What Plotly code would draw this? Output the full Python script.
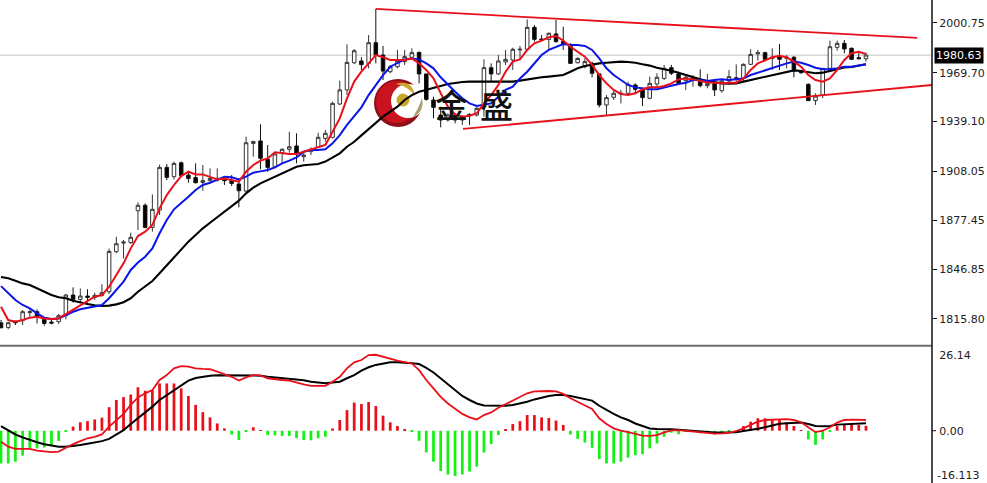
import plotly.graph_objects as go

# --- Price panel data ---
bullish = [0,1,0,1,1,0,0,0,1,1,0,1,0,1,1,1,1,1,1,1,0,1,1,0,1,0,0,0,1,1,1,0,0,0,
1,1,0,0,1,1,1,0,1,1,1,1,1,1,1,1,0,1,0,0,1,1,1,1,0,0,0,0,1,0,1,0,1,1,0,1,1,1,1,
1,0,0,1,0,0,0,1,1,0,0,1,1,1,1,0,0,1,1,1,0,0,1,1,0,1,0,1,1,1,1,1,1,0,1,0,1,0,0,
0,1,1,1,1,0,0,0,1]
highs = [1815.1,1814.1,1814.7,1821.4,1821.8,1821.8,1816.6,1816.1,1818.9,1831.4,1835.5,1834.9,1834.3,1832.2,1837.4,1859.7,1867.2,1865.1,1869.7,1888.6,
1888.0,1893.6,1912.2,1912.6,1914.1,1914.1,1907.8,1913.0,1912.0,1909.9,1909.9,1904.3,1905.7,1903.6,1929.7,1927.2,1937.4,1924.5,1919.7,1922.4,
1932.8,1931.8,1920.3,1923.0,1932.2,1933.9,1951.6,1964.7,1987.4,1984.5,1979.3,1993.2,2009.5,1986.4,1974.5,1983.9,1983.9,1984.9,1982.8,1968.9,
1954.7,1948.4,1944.3,1944.3,1943.2,1944.3,1948.4,1978.0,1975.5,1980.7,1983.9,1985.3,1986.4,2003.0,1999.5,1993.2,1994.7,2002.6,1998.4,1988.0,
1979.3,1978.6,1976.6,1968.9,1955.7,1958.9,1958.9,1964.1,1963.0,1959.9,1967.2,1969.3,1974.5,1974.5,1970.3,1968.2,1968.2,1971.8,1968.9,1965.1,
1965.1,1971.4,1974.9,1975.5,1984.3,1983.9,1982.8,1984.9,1987.6,1980.7,1980.1,1971.4,1963.0,1956.8,1972.4,1989.7,1989.7,1990.1,1985.5,1982.8,1982.2]
body_tops = [1813.4,1813.4,1814.3,1820.3,1820.3,1820.3,1815.5,1813.8,1817.8,1830.7,1830.7,1830.1,1830.1,1830.5,1832.2,1858.0,1862.8,1863.8,1866.8,1886.8,
1886.8,1884.3,1910.5,1910.5,1913.0,1913.4,1905.7,1904.1,1902.2,1903.6,1903.6,1903.0,1902.2,1900.1,1925.9,1926.6,1927.0,1915.5,1918.9,1921.8,
1923.4,1923.9,1918.2,1921.8,1929.3,1931.8,1950.5,1958.9,1976.1,1983.4,1977.0,1988.4,1988.4,1980.7,1973.4,1977.2,1979.7,1982.2,1982.4,1968.9,
1952.6,1943.2,1943.2,1943.2,1942.2,1943.6,1947.4,1972.8,1972.8,1977.0,1978.0,1984.3,1984.3,1998.0,1998.0,1990.7,1994.3,1993.9,1989.1,1987.4,
1978.6,1976.6,1975.5,1968.9,1954.1,1956.8,1956.8,1962.4,1962.0,1958.9,1963.0,1966.8,1972.4,1972.8,1968.9,1966.8,1966.2,1964.1,1963.0,1963.0,
1964.5,1967.2,1966.6,1974.9,1981.1,1982.2,1982.2,1979.3,1980.1,1979.3,1979.3,1970.7,1962.4,1955.1,1972.4,1985.9,1988.0,1988.0,1984.9,1979.1,1980.7]
body_bottoms = [1810.3,1810.5,1813.4,1814.7,1819.7,1816.8,1813.0,1813.2,1814.1,1817.8,1828.0,1828.0,1829.3,1829.3,1830.5,1832.8,1857.8,1863.2,1863.6,1883.4,
1873.0,1873.0,1883.8,1904.3,1904.7,1905.5,1903.6,1900.9,1901.1,1902.2,1902.6,1902.2,1900.5,1895.9,1895.7,1925.5,1916.2,1910.5,1910.9,1919.7,
1921.8,1919.3,1917.2,1920.3,1923.0,1928.6,1929.3,1950.1,1958.9,1975.9,1974.7,1975.5,1980.7,1970.7,1970.3,1973.4,1976.6,1979.3,1968.9,1953.0,
1948.0,1940.1,1940.1,1940.1,1940.1,1942.8,1943.2,1948.4,1968.9,1968.9,1976.4,1977.6,1983.9,1984.3,1990.5,1990.1,1990.5,1989.1,1987.4,1975.5,
1975.9,1973.4,1969.3,1949.5,1949.5,1954.3,1956.4,1956.8,1959.3,1954.1,1953.7,1962.6,1966.1,1969.3,1963.0,1964.7,1965.1,1961.6,1961.6,1958.9,
1958.4,1964.5,1966.0,1966.1,1974.9,1981.4,1978.0,1978.6,1978.0,1978.6,1970.9,1969.7,1952.2,1952.2,1955.7,1972.4,1985.5,1984.5,1978.0,1978.4,1978.4]
lows = [1809.9,1809.3,1812.0,1812.0,1816.1,1813.0,1811.6,1812.4,1812.6,1815.5,1826.0,1826.0,1826.0,1827.6,1829.7,1831.4,1856.8,1853.6,1862.6,1871.4,
1872.4,1870.3,1880.7,1902.6,1903.0,1904.7,1900.9,1900.5,1895.9,1901.6,1901.6,1899.5,1898.9,1885.5,1894.3,1917.2,1909.3,1907.8,1909.9,1913.0,
1919.7,1913.0,1914.1,1918.2,1923.0,1926.6,1928.6,1949.5,1955.7,1975.1,1971.4,1972.4,1975.5,1965.1,1969.3,1972.4,1974.5,1978.0,1963.0,1952.2,
1941.2,1935.5,1939.1,1938.0,1937.0,1937.0,1942.2,1942.2,1964.1,1968.2,1974.5,1971.4,1978.0,1983.9,1989.1,1989.7,1984.3,1988.4,1983.9,1975.1,
1975.5,1972.4,1966.8,1948.0,1943.2,1952.6,1950.5,1955.7,1956.8,1948.9,1953.0,1960.9,1965.1,1968.2,1962.0,1958.9,1960.9,1960.5,1959.9,1955.1,
1957.2,1963.4,1964.1,1964.1,1974.5,1977.2,1977.6,1971.4,1971.4,1972.4,1966.8,1968.9,1952.0,1949.5,1953.7,1971.4,1983.4,1981.8,1977.6,1978.0,1976.6]
ma_fast = [1823.4,1815.1,1814.1,1815.1,1816.6,1817.2,1816.1,1815.7,1816.1,1818.9,1821.8,1824.5,1827.2,1829.7,1830.7,1835.9,1843.2,1850.5,1859.9,1867.6,
1870.3,1874.5,1884.9,1893.2,1899.5,1905.1,1907.8,1906.1,1906.1,1904.3,1903.0,1903.6,1902.6,1901.6,1907.8,1912.0,1914.7,1916.1,1919.9,1919.3,
1918.9,1918.9,1920.3,1922.0,1923.0,1924.5,1932.8,1941.1,1953.6,1964.1,1970.3,1975.5,1980.7,1979.3,1977.6,1977.6,1977.6,1978.6,1975.5,1971.4,
1966.1,1956.8,1948.4,1943.6,1942.2,1942.8,1944.3,1950.5,1955.7,1962.0,1970.3,1976.6,1978.0,1983.9,1988.0,1989.7,1991.8,1992.6,1989.7,1985.9,
1982.8,1979.7,1974.5,1968.2,1963.0,1958.9,1956.4,1955.7,1956.8,1959.3,1960.5,1960.5,1961.4,1963.0,1965.5,1966.1,1965.5,1964.5,1963.6,1963.4,
1963.0,1963.4,1963.4,1966.1,1971.4,1975.5,1977.6,1979.3,1980.3,1979.3,1976.6,1973.4,1968.2,1965.1,1964.1,1966.1,1971.4,1977.6,1981.8,1982.8,1981.4]
ma_mid = [1836.3,1831.8,1827.6,1824.5,1822.4,1819.3,1816.6,1815.7,1816.1,1818.2,1820.3,1821.8,1822.8,1823.4,1824.5,1828.7,1833.9,1839.1,1846.4,1851.0,
1854.7,1859.9,1869.3,1877.6,1884.3,1888.0,1892.2,1896.4,1899.5,1900.9,1903.0,1904.7,1904.3,1903.0,1904.7,1907.2,1908.0,1908.9,1910.5,1913.0,
1914.7,1916.8,1920.3,1921.4,1921.4,1921.8,1925.5,1930.7,1937.0,1942.6,1948.0,1955.7,1962.0,1968.2,1973.4,1975.5,1978.0,1978.6,1978.0,1975.5,
1972.4,1966.8,1962.0,1957.8,1953.7,1950.5,1948.9,1949.5,1950.5,1954.7,1958.9,1960.9,1966.1,1970.3,1975.5,1980.7,1983.9,1985.9,1987.6,1987.0,
1987.0,1986.4,1983.9,1978.6,1972.4,1968.2,1965.1,1962.0,1960.5,1959.9,1959.3,1959.3,1960.5,1961.4,1962.6,1963.4,1965.1,1965.1,1964.5,1965.1,
1965.5,1965.1,1965.5,1966.1,1968.2,1969.7,1970.9,1972.4,1974.1,1975.5,1976.6,1975.9,1974.5,1972.8,1971.8,1971.8,1972.4,1973.4,1973.4,1974.1,1974.9]
ma_slow = [1842.0,1841.2,1839.7,1838.0,1837.0,1834.9,1832.8,1830.7,1829.3,1828.7,1827.2,1826.0,1825.1,1824.3,1823.9,1824.1,1824.9,1826.2,1828.7,1832.8,
1835.9,1839.5,1844.3,1849.1,1854.3,1859.3,1864.1,1868.2,1872.4,1875.9,1879.3,1882.4,1885.9,1889.7,1894.3,1897.8,1900.5,1902.6,1904.7,1906.8,
1909.3,1910.9,1911.8,1912.0,1912.6,1914.1,1916.8,1919.3,1923.4,1926.5,1930.5,1934.5,1938.5,1942.2,1945.3,1948.4,1952.6,1955.7,1957.8,1958.9,
1959.9,1961.4,1962.6,1963.4,1963.9,1964.1,1964.1,1964.1,1964.1,1964.1,1964.1,1964.1,1964.7,1965.5,1966.1,1966.8,1967.2,1967.6,1968.2,1970.3,
1972.4,1973.9,1974.9,1975.5,1975.9,1976.4,1976.6,1976.4,1975.9,1974.9,1974.1,1972.8,1972.0,1970.9,1969.7,1968.2,1966.8,1965.5,1964.5,1963.6,
1963.0,1962.8,1963.0,1964.1,1965.1,1966.1,1967.2,1968.0,1968.9,1970.3,1971.1,1970.7,1969.9,1969.3,1969.7,1970.9,1972.2,1973.0,1973.2,1974.1,1974.9]

# --- MACD panel data ---
macd_hist = [-11.3,-11.3,-10.7,-8.6,-6.1,-6.1,-5.8,-4.9,-3.5,-0.2,1.4,2.9,3.3,3.9,4.5,8.1,10.6,11.6,12.5,15.0,
13.8,14.0,16.3,16.3,16.3,14.6,12.0,8.9,6.4,4.6,2.5,0.8,-1.3,-3.2,-0.3,1.2,0.2,-1.5,-1.6,-1.8,
-1.8,-2.6,-3.2,-3.3,-2.6,-2.1,0.8,3.7,7.1,9.7,9.2,9.9,8.5,5.2,2.9,1.6,0.5,-0.2,-3.5,-7.5,
-10.7,-13.9,-15.1,-15.6,-15.1,-14.1,-12.4,-7.5,-4.6,-1.5,0.5,2.3,3.3,5.4,5.4,4.6,4.4,3.5,2.0,-1.3,
-2.8,-4.1,-5.9,-9.8,-11.3,-11.3,-10.7,-9.3,-8.4,-8.1,-6.1,-4.4,-2.1,-0.7,-1.2,-0.3,-0.3,-0.9,-0.7,-1.3,
-0.9,-0.3,-0.2,1.6,3.1,4.3,4.3,3.9,3.9,2.8,1.6,0.1,-3.0,-4.9,-3.0,-0.2,1.6,2.0,2.3,2.0,1.7]
macd_fast = [-3.8,-5.5,-6.3,-6.3,-6.3,-6.9,-7.2,-7.4,-7.2,-5.8,-4.6,-3.6,-2.6,-2.1,-1.3,1.4,3.7,5.8,8.9,11.5,
12.9,14.0,17.5,19.2,21.5,22.3,22.1,21.5,21.3,21.2,20.4,19.6,18.6,17.3,18.4,19.2,19.1,18.1,17.7,17.5,
17.3,16.6,16.0,15.5,15.4,15.5,16.9,18.6,21.5,23.6,24.4,26.1,26.2,25.5,24.7,24.2,23.7,23.2,20.9,17.5,
14.6,11.7,9.4,7.5,5.8,4.6,3.9,5.4,6.3,7.9,9.2,10.4,11.7,12.9,13.6,13.7,13.7,13.6,12.7,11.2,
10.0,8.9,7.5,4.3,2.3,0.8,0.0,-0.5,-1.0,-1.7,-1.8,-1.5,-0.6,0.1,0.2,0.0,-0.2,-0.5,-0.8,-1.0,
-0.9,-0.7,-0.1,0.8,2.0,3.1,3.7,3.8,3.9,4.0,3.7,2.9,1.2,-0.5,0.0,1.2,2.8,3.7,3.8,3.8,3.7]
macd_signal = [1.6,0.0,-1.3,-2.3,-3.2,-4.0,-4.7,-5.2,-5.5,-5.5,-5.3,-4.9,-4.5,-4.0,-3.6,-2.8,-1.3,0.2,2.3,4.3,
6.2,8.3,10.6,12.3,14.0,15.8,17.3,18.2,18.7,19.0,19.1,19.1,19.1,19.0,19.0,19.1,19.0,18.6,18.4,18.1,
17.9,17.7,17.4,16.9,16.6,16.4,16.6,16.9,18.1,19.2,20.7,21.9,22.7,23.2,23.6,23.6,23.5,23.3,23.0,21.7,
20.1,18.1,16.0,14.0,12.0,10.6,9.4,8.7,8.6,8.5,8.6,8.9,9.4,10.0,10.8,11.5,12.0,12.3,12.3,12.0,
11.5,11.0,10.4,8.6,7.1,5.8,4.6,3.7,2.5,1.6,0.8,0.6,0.6,0.5,0.3,0.1,-0.1,-0.1,-0.3,-0.6,
-0.6,-0.5,-0.5,-0.1,0.2,0.7,1.2,1.8,2.4,2.6,2.8,2.8,2.3,1.6,1.5,1.6,2.1,2.2,2.3,2.5,2.6]

# --- Trend lines: bar index, price ---
upper_idx = [52.0, 127.1]
upper_price = [2009.5, 1991.4]
lower_idx = [64.1, 129.2]
lower_price = [1934.5, 1962.0]

price_ticks = [2000.75, 1969.70, 1939.10, 1908.05, 1877.45, 1846.85, 1815.80]
price_tick_text = ["2000.75", "1969.70", "1939.10", "1908.05", "1877.45", "1846.85", "1815.80"]
macd_ticks = [26.14, 0.0]
macd_tick_text = ["26.14", "0.00"]
macd_low_label = "-16.113"
last_price = 1980.63
brand = ["金", "盛"]

W, H = 987, 483
RED, BLUE, GREEN = "#e8101a", "#0a14e6", "#14f014"
FONT = "DejaVu Sans"

idx = list(range(len(highs)))
opens = [b if u else t for u, t, b in zip(bullish, body_tops, body_bottoms)]
closes = [t if u else b for u, t, b in zip(bullish, body_tops, body_bottoms)]

fig = go.Figure()
fig.add_trace(go.Bar(x=idx, y=macd_hist, xaxis="x", yaxis="y2", width=0.38,
                     marker=dict(color=[RED if v >= 0 else GREEN for v in macd_hist], line_width=0),
                     showlegend=False, hoverinfo="skip"))
fig.add_trace(go.Scatter(x=idx, y=macd_signal, yaxis="y2", mode="lines",
                         line=dict(color="#000000", width=2), showlegend=False))
fig.add_trace(go.Scatter(x=idx, y=macd_fast, yaxis="y2", mode="lines",
                         line=dict(color=RED, width=1.8), showlegend=False))
fig.add_trace(go.Candlestick(x=idx, open=opens, high=highs, low=lows, close=closes,
                             increasing=dict(line=dict(color="#333333", width=1), fillcolor="#ffffff"),
                             decreasing=dict(line=dict(color="#111111", width=1), fillcolor="#000000"),
                             showlegend=False))
fig.add_trace(go.Scatter(x=idx, y=ma_slow, mode="lines", line=dict(color="#000000", width=2.1), showlegend=False))
fig.add_trace(go.Scatter(x=idx, y=ma_mid, mode="lines", line=dict(color=BLUE, width=2), showlegend=False))
fig.add_trace(go.Scatter(x=idx, y=ma_fast, mode="lines", line=dict(color=RED, width=2), showlegend=False))
fig.add_trace(go.Scatter(x=upper_idx, y=upper_price, mode="lines", line=dict(color=RED, width=1.8), showlegend=False))
fig.add_trace(go.Scatter(x=lower_idx, y=lower_price, mode="lines", line=dict(color=RED, width=1.8), showlegend=False))


def px(x):
    return x / W


def py(y):
    return 1 - y / H


def pp(x, y):
    return f"{px(x):.5f} {py(y):.5f}"


def disc(cx, cy, r, color):
    return dict(type="circle", xref="paper", yref="paper", layer="below", line_width=0, fillcolor=color,
                x0=px(cx - r), x1=px(cx + r), y0=py(cy + r), y1=py(cy - r))


def blob(d, color):
    return dict(type="path", xref="paper", yref="paper", layer="below", line_width=0, fillcolor=color, path=d)


shapes = [
    disc(398, 103, 24, "#8f0f16"),
    disc(397, 102, 21, "#c9141f"),
    disc(408, 101, 17, "#ffffff"),
    blob(f"M {pp(396, 84)} Q {pp(412, 79)} {pp(415, 96)} Q {pp(408, 86)} {pp(396, 84)} Z", "#c9a62c"),
    blob(f"M {pp(412, 118)} Q {pp(425, 112)} {pp(422, 98)} Q {pp(418, 110)} {pp(412, 118)} Z", "#a8a070"),
    disc(403, 100, 6.5, "#c8a82a"),
    # last-price line, panel separator, scale line
    dict(type="line", xref="paper", yref="y", layer="below", x0=0, x1=px(932), y0=last_price, y1=last_price,
         line=dict(color="#d6d6d6", width=1.5)),
    dict(type="line", xref="paper", yref="paper", x0=0, x1=px(932), y0=py(345.8), y1=py(345.8),
         line=dict(color="#6e6e6e", width=2)),
    dict(type="line", xref="paper", yref="paper", x0=px(932), x1=px(932), y0=0, y1=1,
         line=dict(color="#111111", width=1.5)),
    dict(type="line", xref="paper", yref="y2", x0=px(932), x1=px(936), y0=0, y1=0,
         line=dict(color="#111111", width=1)),
]

annotations = [
    dict(xref="paper", yref="y", x=px(934), xanchor="left", y=last_price, yanchor="middle",
         text=f"{last_price:.2f}", showarrow=False, bgcolor="#000000", borderpad=1,
         font=dict(family=FONT, size=11, color="#ffffff")),
    dict(xref="paper", yref="paper", x=px(451), xanchor="center", y=py(104), yanchor="middle", text=brand[0],
         showarrow=False, font=dict(family="Noto Sans CJK SC", size=33, color="#111111", weight=500)),
    dict(xref="paper", yref="paper", x=px(497), xanchor="center", y=py(104), yanchor="middle", text=brand[1],
         showarrow=False, font=dict(family="Noto Sans CJK SC", size=33, color="#111111", weight=500)),
    dict(xref="paper", yref="paper", x=px(936), xanchor="left", y=py(475), yanchor="middle", text=macd_low_label,
         showarrow=False, borderpad=0, font=dict(family=FONT, size=11, color="#222222")),
]

fig.update_layout(
    width=W, height=H, margin=dict(l=0, r=0, t=0, b=0),
    paper_bgcolor="#ffffff", plot_bgcolor="#ffffff", showlegend=False, hovermode=False,
    bargap=0.6, shapes=shapes, annotations=annotations,
    xaxis=dict(domain=[0, px(932)], range=[-0.139, 129.16], visible=False, rangeslider=dict(visible=False),
               fixedrange=True),
    yaxis=dict(domain=[py(345), 1], range=[1799.5, 2015.1], side="right", anchor="x", showgrid=False,
               zeroline=False, tickmode="array", tickvals=price_ticks, ticktext=price_tick_text,
               ticks="outside", ticklen=4, tickcolor="#111111",
               tickfont=dict(family=FONT, size=11, color="#222222"), fixedrange=True),
    yaxis2=dict(domain=[0, py(347)], range=[-18.04, 28.88], side="right", anchor="x", showgrid=False,
                zeroline=False, tickmode="array", tickvals=macd_ticks, ticktext=macd_tick_text,
                ticks="outside", ticklen=4, tickcolor="rgba(0,0,0,0)",
                tickfont=dict(family=FONT, size=11, color="#222222"), fixedrange=True),
)

fig.write_html("out.html", config={"displayModeBar": False},
               post_script="document.body.style.margin='0';document.documentElement.style.overflow='hidden';")
